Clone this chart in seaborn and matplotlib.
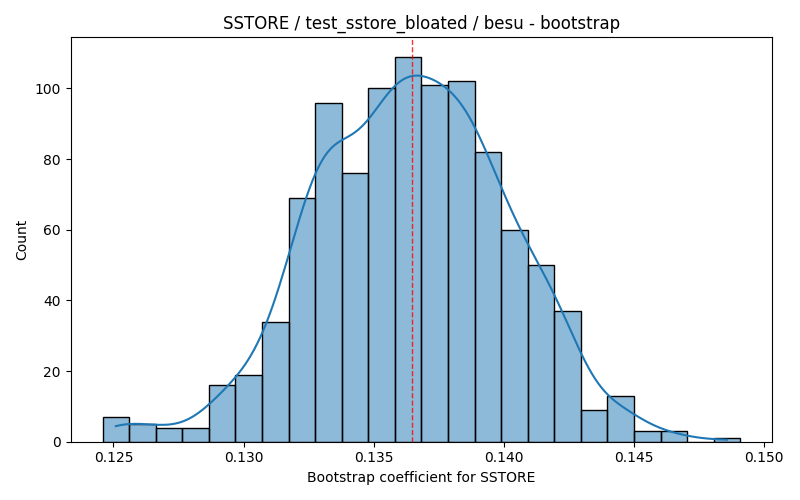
import numpy as np
import matplotlib
matplotlib.use("Agg")
import matplotlib.pyplot as plt
import seaborn as sns

# histogram: 24 bins, 1000 bootstrap draws
bin_lo = 0.12458
bin_hi = 0.14908
counts = [7, 5, 4, 4, 16, 19, 34, 69, 96, 76, 100, 109,
          101, 102, 82, 60, 50, 37, 9, 13, 3, 3, 0, 1]
mean_coef = 0.13648

edges = np.linspace(bin_lo, bin_hi, len(counts) + 1)
centers = (edges[:-1] + edges[1:]) / 2
samples = np.repeat(centers, counts)

fig, ax = plt.subplots(figsize=(8, 5), dpi=100)
sns.histplot(x=samples, bins=edges, kde=True, ax=ax)
ax.axvline(mean_coef, color="red", linestyle="--", linewidth=1, alpha=0.8)
ax.set_title("SSTORE / test_sstore_bloated / besu - bootstrap")
ax.set_xlabel("Bootstrap coefficient for SSTORE")
ax.set_ylabel("Count")
plt.tight_layout()
plt.savefig("out.png")
